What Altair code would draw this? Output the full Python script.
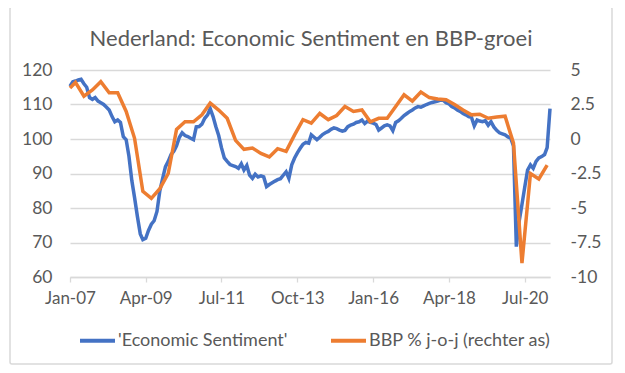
import altair as alt
import pandas as pd

# ---- data ----
title_text = "Nederland: Economic Sentiment en BBP-groei"
es_series = "'Economic Sentiment'"
gdp_series = "BBP % j-o-j (rechter as)"

# Economic Sentiment, monthly Jan-2007 .. Apr-2021
es_2007 = [115.3, 116.6, 116.8, 117.1, 117.3, 116.0, 115.0, 112.0, 111.5, 112.0, 111.0, 110.5]
es_2008 = [110.0, 109.2, 108.4, 106.5, 105.0, 105.5, 104.8, 100.7, 99.8, 95.0, 88.0, 83.0]
es_2009 = [77.5, 72.5, 70.8, 71.2, 73.5, 75.3, 76.3, 79.0, 85.0, 88.5, 92.0, 93.5]
es_2010 = [95.5, 96.5, 98.0, 100.5, 101.8, 101.0, 100.7, 100.2, 99.8, 103.5, 103.6, 104.3]
es_2011 = [106.0, 107.0, 108.8, 106.5, 103.6, 101.0, 97.5, 94.5, 93.5, 92.6, 92.3, 92.0]
es_2012 = [91.5, 92.8, 91.0, 92.3, 89.5, 88.6, 89.8, 89.0, 89.3, 89.0, 86.2, 86.8]
es_2013 = [87.3, 87.8, 88.2, 88.5, 89.5, 90.5, 88.6, 92.5, 94.5, 96.0, 97.3, 98.5]
es_2014 = [99.0, 98.8, 101.2, 100.5, 99.8, 100.5, 101.3, 101.8, 102.2, 102.8, 103.2, 103.0]
es_2015 = [102.6, 102.3, 102.5, 103.6, 104.0, 104.3, 104.8, 105.0, 105.5, 104.5, 105.2, 104.8]
es_2016 = [104.6, 104.2, 102.6, 103.2, 103.8, 104.1, 103.8, 102.4, 104.8, 105.3, 106.0, 106.8]
es_2017 = [107.4, 108.0, 108.4, 109.0, 109.4, 109.2, 109.6, 110.0, 110.3, 110.6, 110.8, 111.0]
es_2018 = [111.3, 111.2, 110.5, 110.2, 109.4, 109.0, 108.4, 108.0, 107.4, 107.0, 106.5, 106.3]
es_2019 = [103.8, 105.5, 105.2, 105.0, 105.3, 104.0, 105.0, 103.5, 102.5, 101.8, 101.5, 101.2]
es_2020 = [100.6, 100.2, 98.0, 68.8, 76.0, 81.0, 86.0, 91.0, 92.5, 91.5, 93.5, 94.5]
es_2021 = [94.9, 95.5, 97.5, 108.8]

es_values = (es_2007 + es_2008 + es_2009 + es_2010 + es_2011 + es_2012 + es_2013
             + es_2014 + es_2015 + es_2016 + es_2017 + es_2018 + es_2019 + es_2020 + es_2021)
es_dates = [d.strftime("%Y-%m-01") for d in pd.date_range("2007-01-01", periods=len(es_values), freq="MS")]

# BBP (GDP) % year-on-year, quarterly (right axis)
gdp_dates = ["2007-01-01",
             "2007-03-01", "2007-06-01", "2007-09-01", "2007-12-01",
             "2008-03-01", "2008-06-01", "2008-09-01", "2008-12-01",
             "2009-03-01", "2009-06-01", "2009-09-01", "2009-12-01",
             "2010-03-01", "2010-06-01", "2010-09-01", "2010-12-01",
             "2011-03-01", "2011-06-01", "2011-09-01", "2011-12-01",
             "2012-03-01", "2012-06-01", "2012-09-01", "2012-12-01",
             "2013-03-01", "2013-06-01", "2013-09-01", "2013-12-01",
             "2014-03-01", "2014-06-01", "2014-09-01", "2014-12-01",
             "2015-03-01", "2015-06-01", "2015-09-01", "2015-12-01",
             "2016-03-01", "2016-06-01", "2016-09-01", "2016-12-01",
             "2017-03-01", "2017-06-01", "2017-09-01", "2017-12-01",
             "2018-03-01", "2018-06-01", "2018-09-01", "2018-12-01",
             "2019-03-01", "2019-06-01", "2019-09-01", "2019-12-01",
             "2020-03-01", "2020-06-01", "2020-09-01", "2020-12-01",
             "2021-03-01"]
gdp_values = [3.7,
              4.1, 3.1, 3.55, 4.15,
              3.35, 3.35, 2.0, 0.05,
              -3.8, -4.3, -3.6, -2.5,
              0.7, 1.25, 1.25, 1.75,
              2.6, 2.1, 1.5, -0.1,
              -0.75, -0.65, -1.05, -1.3,
              -0.7, -0.9, 0.3, 1.4,
              1.15, 1.85, 1.4, 1.7,
              2.35, 2.0, 2.1, 1.25,
              1.5, 1.5, 2.35, 3.2,
              2.75, 3.4, 3.0, 2.9,
              2.85, 2.5, 2.1, 1.75,
              1.8, 1.5, 1.6, 1.65,
              -0.3, -9.0, -2.5, -2.9,
              -1.9]

left_ticks = [60, 70, 80, 90, 100, 110, 120]
right_ticks = [-10, -7.5, -5, -2.5, 0, 2.5, 5]
x_tick_dates = [(2007, 1), (2009, 4), (2011, 7), (2013, 10), (2016, 1), (2018, 4), (2020, 7)]

es_df = pd.DataFrame({"date": es_dates, "value": es_values, "series": es_series})
gdp_df = pd.DataFrame({"date": gdp_dates, "value": gdp_values, "series": gdp_series})

# ---- styling ----
FONT = "Lato"
TXT = "#595959"
GRID = "#d9d9d9"
BLUE = "#4472C4"
ORANGE = "#ED7D31"

x_enc = alt.X(
    "date:T",
    scale=alt.Scale(type="utc",
                    domain=[alt.DateTime(year=2007, month=1, date=1, utc=True),
                            alt.DateTime(year=2021, month=4, date=1, utc=True)]),
    axis=alt.Axis(
        values=[alt.DateTime(year=y, month=m, date=1, utc=True) for y, m in x_tick_dates],
        labelExpr="utcFormat(datum.value, '%b-%y')", labelOverlap=False,
        labelFlush=False, title=None, grid=False,
        domain=True, domainColor=GRID, domainWidth=1.3,
        ticks=True, tickColor=GRID, tickSize=5, tickWidth=1.3,
        labelFont=FONT, labelFontSize=17, labelColor=TXT, labelPadding=8,
    ),
)

color_enc = alt.Color(
    "series:N",
    scale=alt.Scale(domain=[es_series, gdp_series], range=[BLUE, ORANGE]),
    legend=alt.Legend(
        title=None, orient="none", legendX=8, legendY=251, direction="horizontal",
        symbolType="stroke", symbolSize=1225, symbolStrokeWidth=4,
        labelFont=FONT, labelFontSize=18, labelColor=TXT, labelOffset=1,
        labelLimit=400, columnPadding=35,
    ),
)

border = alt.Chart(pd.DataFrame({"a": [0]})).mark_rect(
    fillOpacity=0, stroke=GRID, strokeWidth=1.5, cornerRadius=2
).encode(x=alt.value(-60), x2=alt.value(542), y=alt.value(-63), y2=alt.value(294))

title = alt.Chart(pd.DataFrame({"t": [title_text]})).mark_text(
    font=FONT, fontSize=22, color=TXT, align="center", baseline="alphabetic"
).encode(x=alt.value(241), y=alt.value(-24), text="t:N")

es_line = alt.Chart(es_df).mark_line(strokeWidth=3.5).encode(
    x=x_enc,
    y=alt.Y("value:Q",
            scale=alt.Scale(domain=[60, 120], nice=False, zero=False),
            axis=alt.Axis(orient="left", values=left_ticks, title=None,
                          grid=True, gridColor=GRID, gridWidth=1.3,
                          domain=False, ticks=False, tickSize=0,
                          labelFont=FONT, labelFontSize=17.5, labelColor=TXT,
                          labelPadding=18)),
    color=color_enc,
)

gdp_line = alt.Chart(gdp_df).mark_line(strokeWidth=3.5).encode(
    x=x_enc,
    y=alt.Y("value:Q",
            scale=alt.Scale(domain=[-10, 5], nice=False, zero=False),
            axis=alt.Axis(orient="right", values=right_ticks, title=None,
                          grid=False, domain=False, ticks=False, tickSize=0,
                          labelExpr="datum.value + ''",
                          labelFont=FONT, labelFontSize=17.5, labelColor=TXT,
                          labelPadding=20)),
    color=color_enc,
)

chart = alt.layer(border, title, es_line, gdp_line).resolve_scale(
    y="independent"
).properties(
    width=480,
    height=207,
    autosize=alt.AutoSizeParams(type="none"),
    padding={"left": 62, "top": 62, "right": 67, "bottom": 88},
    background="white",
).configure_view(stroke=None)

chart.save("out.html", embed_options={"renderer": "svg", "actions": False})
